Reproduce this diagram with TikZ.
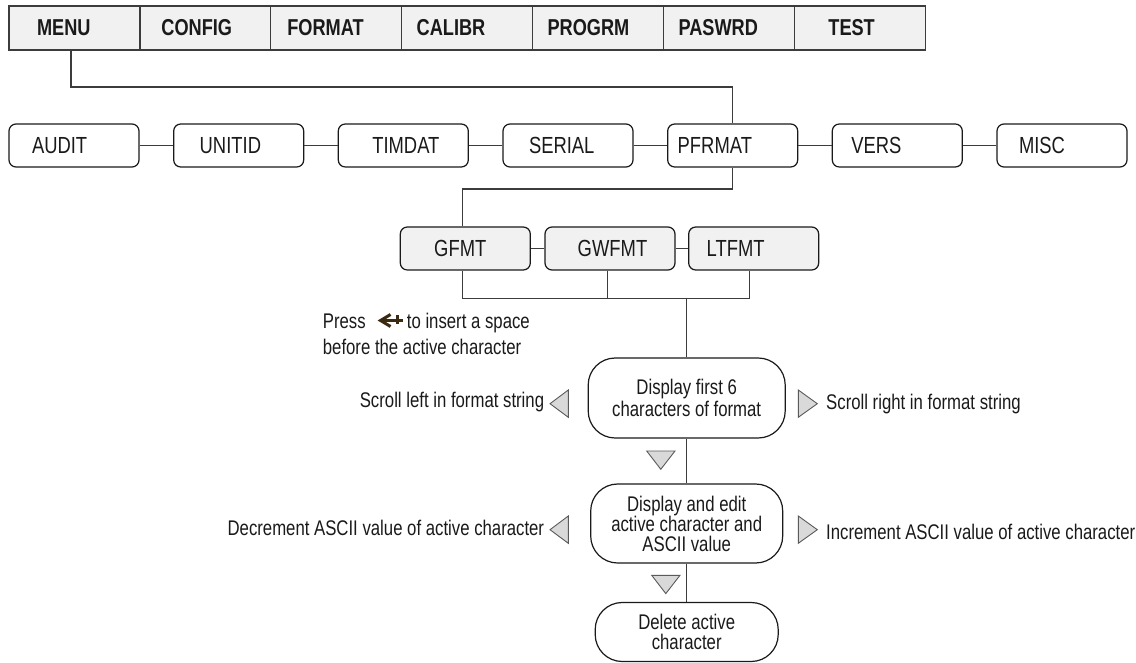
\documentclass[tikz,border=0pt]{standalone}
\usepackage{fontspec}
\setmainfont{Liberation Sans}[FakeStretch=0.79]
\usetikzlibrary{arrows.meta, positioning}
\definecolor{tinta}{HTML}{1A1A1A}
\definecolor{pizarra}{HTML}{3C3C3C}
\definecolor{grisclaro}{HTML}{F1F1F1}
\definecolor{grismedio}{HTML}{D9D9D9}
\definecolor{grisoscuro}{HTML}{5A5A5A}
\definecolor{marron}{HTML}{3A2A12}
\tikzset{
  every picture/.style={font=\fontsize{21.2}{21.5}\selectfont, text=tinta},
  pestana/.style={draw=pizarra, fill=grisclaro, line width=1.2pt, minimum width=130.9pt, minimum height=44pt,
              text width=100.9pt, inner xsep=15pt, align=left, outer sep=0pt, font=\fontsize{23}{24}\selectfont\bfseries},
  opcion/.style={draw=tinta, fill=white, line width=1.2pt, rounded corners=7pt, minimum width=130pt, minimum height=43pt,
              text width=90pt, inner xsep=20pt, align=left, font=\fontsize{23.3}{24}\selectfont},
  subop/.style={draw=tinta, fill=grisclaro, line width=1.2pt, rounded corners=7pt, minimum width=130pt, minimum height=43pt,
              font=\fontsize{23.3}{24}\selectfont},
  paso/.style={draw=tinta, fill=white, line width=1.2pt, rounded corners=27pt, align=center, inner sep=0pt},
  linea/.style={draw=pizarra, line width=1.2pt},
  tecla/.style={draw=grisoscuro, fill=grismedio, line width=0.9pt},
  nota/.style={inner sep=0pt},
  icono/.style={draw=marron, line width=3pt},
}
\begin{document}
\begin{tikzpicture}[x=1pt, y=-1pt]
  \useasboundingbox (0,0) rectangle (1136,663);
  % barra de menus
  \node[pestana] (menu) at (74.45,28) {\hspace*{13pt}MENU};
  \node[pestana] (config) at (205.35,28) {\hspace*{6.5pt}CONFIG};
  \node[pestana] (format) at (336.25,28) {\hspace*{1.5pt}FORMAT};
  \node[pestana] (calibr) at (467.15,28) {CALIBR};
  \node[pestana] (progrm) at (598.05,28) {PROGRM};
  \node[pestana] (paswrd) at (728.95,28) {PASWRD};
  \node[pestana] (test) at (859.85,28) {\hspace*{19pt}TEST};
  % segundo nivel
  \node[opcion] (audit) at (74,145.5) {\hspace*{3pt}AUDIT};
  \node[opcion] (unitid) at (238.7,145.5) {\hspace*{6pt}UNITID};
  \node[opcion] (timdat) at (403.3,145.5) {\hspace*{14pt}TIMDAT};
  \node[opcion] (serial) at (568,145.5) {\hspace*{6pt}SERIAL};
  \node[opcion] (pfrmat) at (732.7,145.5) {\hspace*{-10pt}PFRMAT};
  \node[opcion] (vers) at (897.3,145.5) {\hspace*{-1pt}VERS};
  \node[opcion] (misc) at (1062,145.5) {\hspace*{2pt}MISC};
  \draw[linea] (audit) -- (unitid); \draw[linea] (unitid) -- (timdat); \draw[linea] (timdat) -- (serial);
  \draw[linea] (serial) -- (pfrmat); \draw[linea] (pfrmat) -- (vers); \draw[linea] (vers) -- (misc);
  \draw[linea] ([xshift=-3.5pt]menu.south) -- ++(0,37) -| (pfrmat.north);
  % formatos
  \node[subop] (gfmt) at (465.3,248.5) {GFMT\hspace*{10pt}};
  \node[subop] (gwfmt) at (610,248.5) {\hspace*{5pt}GWFMT};
  \node[subop] (ltfmt) at (753.7,248.5) {LTFMT\hspace*{36pt}};
  \draw[linea] (gfmt) -- (gwfmt); \draw[linea] (gwfmt) -- (ltfmt);
  \draw[linea] (pfrmat.south) -- ++(0,21.5) -| ([xshift=-2.6pt]gfmt.north);
  \draw[linea] ([xshift=-2.6pt]gfmt.south) -- ++(0,27.7) -| ([xshift=-4.4pt]ltfmt.south);
  \draw[linea] ([xshift=-2.7pt]gwfmt.south) -- ++(0,27.7);
  \coordinate (bus) at (686.7,297.7);
  % edicion
  \node[paso, minimum width=197pt, minimum height=80pt, font=\fontsize{21.2}{22.5}\selectfont] (mostrar) at (686.7,398) {Display first 6\\characters of format};
  \node[paso, minimum width=192pt, minimum height=79pt, font=\fontsize{21.2}{20}\selectfont] (editar) at (686.7,523.5) {Display and edit\\active character and\\ASCII value};
  \node[paso, minimum width=183pt, minimum height=59pt, font=\fontsize{21.2}{20.5}\selectfont] (borrar) at (686.7,632) {Delete active\\character};
  \draw[linea] (bus) -- (mostrar); \draw[linea] (mostrar) -- (editar); \draw[linea] (editar) -- (borrar);
  % teclas
  \draw[tecla] (646.7,451) -- (675,451) -- (660.8,469.3) -- cycle;
  \draw[tecla] (651.7,575.3) -- (680,575.3) -- (665.8,593.6) -- cycle;
  \draw[tecla] (568.3,390) -- (568.3,417.3) -- (550,403.7) -- cycle;
  \draw[tecla] (798.3,390) -- (798.3,417.3) -- (817.3,403.7) -- cycle;
  \draw[tecla] (568.3,516) -- (568.3,543.3) -- (550,529.7) -- cycle;
  \draw[tecla] (798.3,516) -- (798.3,543.3) -- (817.3,529.7) -- cycle;
  \node[nota, anchor=east] (izq) at (544.3,401.7) {Scroll left in format string};
  \node[nota, anchor=west] (der) at (826,404) {Scroll right in format string};
  \node[nota, anchor=east] (menos) at (544.3,528.3) {Decrement ASCII value of active character};
  \node[nota, anchor=west] (mas) at (826,531.7) {Increment ASCII value of active character};
  % insertar espacio
  \node[nota, anchor=base west] (press) at (322.7,329) {Press};
  \node[nota, anchor=base west] (insert) at (406.7,329) {to insert a space};
  \node[nota, anchor=base west] (before) at (322.7,354) {before the active character};
  \draw[icono, line join=miter] (390.5,314.5) -- (380.5,320.5) -- (390.5,326.5);
  \draw[icono] (383,320.5) -- (403,320.5); \draw[icono, line width=2.4pt] (397.5,315) -- (397.5,324);
\end{tikzpicture}
\end{document}
